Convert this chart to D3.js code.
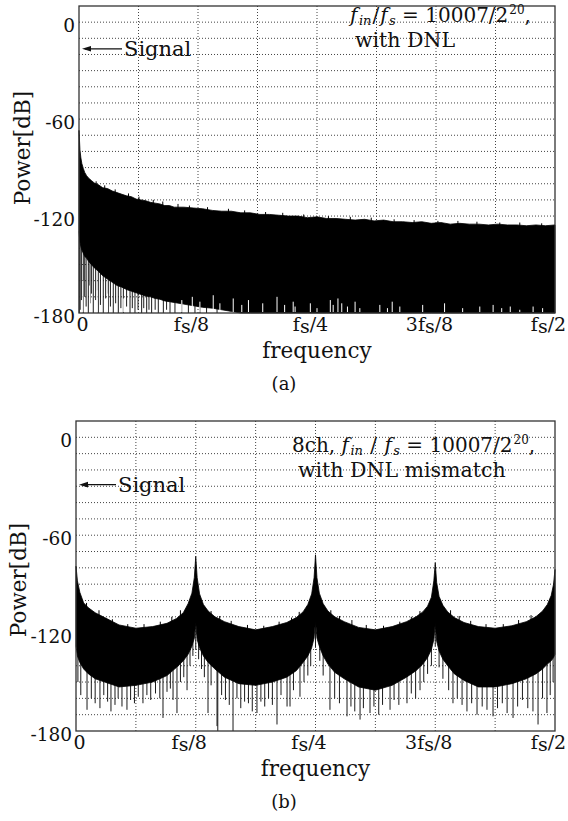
<!DOCTYPE html>
<html>
<head>
<meta charset="utf-8">
<script src="https://cdn.jsdelivr.net/npm/d3@7"></script>
<style>
  body { margin: 0; background: #fff; }
  svg { display: block; }
  text { font-family: "DejaVu Serif", serif; fill: #111; }
</style>
</head>
<body>
<div id="chart"></div>
<script>
// ---- shared axis data ----
const tickFracs = [0, 0.125, 0.25, 0.375, 0.5];
const tickNames = ["0", "fs/8", "fs/4", "3fs/8", "fs/2"];
const dbTicks = [0, -60, -120, -180];
const gridFracs = [0.0625, 0.125, 0.1875, 0.25, 0.3125, 0.375, 0.4375];
const gridDb = [0, -10, -20, -30, -40, -50, -60, -70, -80, -90, -100, -110, -120, -130, -140, -150, -160, -170];

// ---- panel (a): single channel, with DNL ----
const freqA = [0, 0.0005, 0.001, 0.002, 0.003, 0.0045, 0.006, 0.008, 0.01, 0.013,
  0.016, 0.02, 0.025, 0.03, 0.035, 0.04, 0.045, 0.05, 0.055, 0.06,
  0.065, 0.07, 0.075, 0.08, 0.085, 0.09, 0.095, 0.1,
  0.11, 0.12, 0.13, 0.14, 0.15, 0.16, 0.17, 0.18, 0.19, 0.2,
  0.21, 0.22, 0.23, 0.24, 0.25, 0.26, 0.27, 0.28, 0.29, 0.3,
  0.31, 0.32, 0.33, 0.34, 0.35, 0.36, 0.37, 0.38, 0.39, 0.4,
  0.41, 0.42, 0.43, 0.44, 0.45, 0.46, 0.47, 0.48, 0.49, 0.5];
const topA = [-67, -73, -79, -84, -87.5, -90.5, -93, -95, -96.5, -98,
  -99.5, -100.5, -102.5, -103, -104.5, -105.5, -106.5, -107.5, -108, -109.5,
  -110, -110.5, -111.5, -112, -112.5, -113.5, -113.5, -114.5,
  -114.5, -115, -115.5, -116.5, -117, -117, -118, -118, -119, -119,
  -119.5, -120, -120, -121, -120.5, -121.5, -121.5, -122, -122.5, -122,
  -123, -122.5, -123.5, -123.5, -124, -123.5, -124.5, -124, -125, -124.5,
  -125, -125, -125.5, -125, -125.5, -125.5, -126, -125.5, -126, -125.5];
const floorA = [-129, -133, -136, -139, -141, -143, -145, -146, -148, -150,
  -152, -154, -157, -159, -161, -163, -164, -165.5, -166.5, -167.5,
  -168.5, -169.5, -170, -171, -171.5, -172.5, -173, -173.5,
  -174.5, -175.5, -176.5, -177, -178, -179, -180, -180, -180, -180,
  -180, -180, -180, -180, -180, -180, -180, -180, -180, -180,
  -180, -180, -180, -180, -180, -180, -180, -180, -180, -180,
  -180, -180, -180, -180, -180, -180, -180, -180, -180, -180];
// small peaks poking above the top envelope [frequency, dB]
const fuzzA = [[0.018, -98.5], [0.027, -101], [0.038, -103.5], [0.052, -106], [0.063, -108],
  [0.078, -110], [0.088, -111], [0.104, -112.5], [0.116, -113.5], [0.135, -114.5],
  [0.157, -115.5], [0.174, -116.5], [0.196, -117.5], [0.214, -118], [0.236, -119],
  [0.262, -120], [0.285, -120.5], [0.307, -121], [0.331, -122], [0.352, -122.5],
  [0.377, -123], [0.398, -123], [0.418, -123.5], [0.442, -124], [0.463, -124], [0.486, -124.5]];
// deepest dips below the solid band [frequency, dB]
const spikesA = [[0.0003, -180], [0.0012, -178], [0.0025, -172], [0.0045, -180], [0.006, -170],
  [0.0075, -176], [0.0098, -180], [0.0115, -174], [0.013, -168], [0.015, -180],
  [0.0175, -172], [0.0203, -180], [0.0225, -175], [0.0255, -180], [0.028, -171],
  [0.0308, -180], [0.033, -176], [0.036, -180], [0.0385, -174], [0.0413, -180],
  [0.044, -177], [0.0466, -180], [0.05, -176], [0.0536, -180], [0.056, -177],
  [0.0588, -180], [0.062, -178], [0.0658, -180], [0.068, -177], [0.0711, -180],
  [0.0735, -178], [0.0763, -180], [0.08, -178], [0.0833, -180], [0.0886, -180],
  [0.092, -178], [0.0956, -180], [0.1008, -180], [0.1079, -180], [0.1149, -180],
  [0.1218, -180], [0.1271, -180], [0.134, -180], [0.145, -180]];
// white gaps rising from the floor [frequency, dB]
const gapsA = [[0.004, -160], [0.011, -163], [0.019, -166], [0.03, -168], [0.047, -171],
  [0.064, -174], [0.085, -175], [0.108, -172], [0.119, -170], [0.127, -173], [0.141, -169], [0.148, -174],
  [0.162, -171], [0.171, -175], [0.178, -172], [0.193, -174], [0.208, -170],
  [0.216, -175], [0.225, -173], [0.227, -176], [0.243, -174], [0.25, -177],
  [0.264, -172], [0.267, -175], [0.272, -171], [0.276, -174], [0.282, -176],
  [0.29, -173], [0.295, -177], [0.316, -175], [0.324, -177], [0.329, -173],
  [0.337, -176], [0.361, -175], [0.384, -174], [0.403, -177], [0.421, -176],
  [0.435, -175], [0.444, -177], [0.453, -176], [0.463, -178], [0.477, -176], [0.487, -177]];

// ---- panel (b): 8 channels, with DNL mismatch ----
const freqB = [0, 0.0015, 0.004, 0.008, 0.013, 0.02, 0.03, 0.045, 0.0625, 0.08,
  0.095, 0.105, 0.112, 0.117, 0.121, 0.1235, 0.125, 0.1265, 0.129, 0.133,
  0.138, 0.145, 0.155, 0.17, 0.1875, 0.205, 0.22, 0.23, 0.237, 0.242,
  0.246, 0.2485, 0.25, 0.2515, 0.254, 0.258, 0.263, 0.27, 0.28, 0.295,
  0.3125, 0.33, 0.345, 0.355, 0.362, 0.367, 0.371, 0.3735, 0.375, 0.3765,
  0.379, 0.383, 0.388, 0.395, 0.405, 0.42, 0.4375, 0.455, 0.47, 0.48,
  0.487, 0.492, 0.496, 0.4985, 0.5];
const topB = [-79, -88, -95, -101.5, -104.5, -107.5, -110.5, -115, -117, -116,
  -114, -111, -107.5, -102, -95.5, -86, -73, -86, -96, -102.5,
  -106.5, -110, -113, -116, -118, -116, -113.5, -110.5, -107, -102.5,
  -96, -86, -72, -86, -95.5, -102, -106.5, -110, -113, -116.5,
  -118, -116, -113, -110, -107, -103.5, -98, -88, -77, -89,
  -97.5, -103, -107, -110.5, -113.5, -116, -117, -115.5, -113, -110,
  -106.5, -102.5, -97, -90, -81];
const floorB = [-128, -134, -138, -142, -145, -148, -150, -153, -152, -150,
  -146, -141, -137, -133, -128, -123, -113, -124, -129, -134,
  -138, -142, -147, -151, -152, -150, -147, -143, -138, -134,
  -129, -123, -112, -123, -128, -134, -139, -144, -148, -153,
  -155, -152, -147, -143, -139, -135, -130, -124, -114, -125,
  -131, -136, -140, -145, -149, -153, -153, -151, -148, -145,
  -142, -139, -137, -135, -133];
const fuzzB = [[0.011, -101.5], [0.024, -106], [0.038, -111.5], [0.054, -114.5], [0.071, -114.5],
  [0.088, -113], [0.1, -110], [0.109, -106], [0.141, -106.5], [0.15, -109.5],
  [0.162, -112.5], [0.179, -115], [0.196, -115.5], [0.212, -113], [0.225, -110.5],
  [0.233, -107], [0.266, -106], [0.275, -109.5], [0.288, -112], [0.303, -115],
  [0.321, -115.5], [0.338, -113], [0.35, -110], [0.359, -106.5], [0.391, -106],
  [0.4, -109.5], [0.412, -112.5], [0.428, -114.5], [0.446, -114.5], [0.462, -112], [0.475, -109]];
const spikesB = [[0.002, -150], [0.005, -158], [0.0115, -167], [0.016, -160], [0.02, -163],
  [0.025, -166], [0.029, -158], [0.033, -162], [0.0365, -168], [0.0407, -164],
  [0.044, -160], [0.048, -165], [0.0532, -167], [0.057, -161], [0.061, -163],
  [0.065, -159], [0.0699, -163], [0.074, -158], [0.078, -161], [0.083, -157],
  [0.0875, -160], [0.0908, -172], [0.095, -156], [0.0985, -154], [0.1013, -161],
  [0.1054, -169], [0.109, -150], [0.1125, -147], [0.1159, -155], [0.119, -140],
  [0.122, -134], [0.125, -130],
  [0.128, -136], [0.131, -142], [0.134, -147], [0.1378, -169], [0.141, -152],
  [0.1472, -177], [0.148, -181], [0.152, -158], [0.156, -161], [0.16, -164],
  [0.1639, -181], [0.168, -160], [0.172, -166], [0.176, -162], [0.18, -163],
  [0.184, -168], [0.1889, -169], [0.193, -162], [0.197, -165], [0.201, -160],
  [0.205, -164], [0.2098, -176], [0.214, -158], [0.2203, -165], [0.2234, -165],
  [0.227, -155], [0.2338, -159], [0.238, -150], [0.242, -146], [0.245, -140], [0.25, -129],
  [0.2545, -137], [0.258, -146], [0.2651, -167], [0.27, -160], [0.275, -163],
  [0.2829, -171], [0.287, -165], [0.291, -168], [0.2965, -173], [0.3, -166],
  [0.3069, -169], [0.311, -165], [0.316, -170], [0.32, -164], [0.3278, -167],
  [0.332, -161], [0.337, -164], [0.3455, -163], [0.35, -157], [0.3545, -160],
  [0.3591, -155], [0.363, -150], [0.367, -145], [0.371, -140], [0.375, -128],
  [0.379, -141], [0.383, -148], [0.389, -155], [0.3935, -163], [0.398, -160],
  [0.403, -164], [0.4081, -168], [0.413, -163], [0.4186, -170], [0.424, -165],
  [0.429, -167], [0.4353, -171], [0.44, -166], [0.445, -163], [0.45, -169],
  [0.4562, -172], [0.461, -165], [0.466, -161], [0.4716, -166], [0.477, -168],
  [0.4823, -176], [0.487, -160], [0.4916, -169], [0.495, -158], [0.498, -150]];
const gapsB = [];

// ---- page ----
const width = 568, height = 821;
const svg = d3.select("#chart").append("svg")
  .attr("width", width)
  .attr("height", height);

function drawPanel(p) {
  const g = svg.append("g");

  const x = d3.scaleLinear().domain([0, 0.5]).range([p.left, p.right]);
  const y = d3.scaleLinear().domain([-180, 10]).range([p.bottom, p.top]).clamp(true);

  // dotted grid
  g.append("g").selectAll("line").data(gridFracs).join("line")
    .attr("x1", d => x(d)).attr("x2", d => x(d))
    .attr("y1", p.top).attr("y2", p.bottom)
    .attr("stroke", "#444").attr("stroke-width", 1)
    .attr("stroke-dasharray", "1,2");
  g.append("g").selectAll("line").data(gridDb).join("line")
    .attr("x1", p.left).attr("x2", p.right)
    .attr("y1", d => y(d)).attr("y2", d => y(d))
    .attr("stroke", "#444").attr("stroke-width", 1)
    .attr("stroke-dasharray", "1,2");

  // spectrum: solid band between floor and top envelope
  const rows = d3.zip(p.freq, p.top_, p.floor);
  const floorAt = d3.scaleLinear().domain(p.freq).range(p.floor);
  const topAt = d3.scaleLinear().domain(p.freq).range(p.top_);

  g.append("g").selectAll("line").data(p.spikes).join("line")
    .attr("x1", d => x(d[0])).attr("x2", d => x(d[0]))
    .attr("y1", d => y(floorAt(d[0]) + 2)).attr("y2", d => y(d[1]))
    .attr("stroke", "#1a1a1a").attr("stroke-width", 1);

  const area = d3.area()
    .x(d => x(d[0]))
    .y0(d => y(d[2]))
    .y1(d => y(d[1]));
  g.append("path")
    .datum(rows)
    .attr("d", area)
    .attr("fill", "#000")
    .attr("stroke", "#000")
    .attr("stroke-width", 0.8);

  g.append("g").selectAll("line").data(p.fuzz).join("line")
    .attr("x1", d => x(d[0])).attr("x2", d => x(d[0]))
    .attr("y1", d => y(topAt(d[0]) - 2)).attr("y2", d => y(d[1]))
    .attr("stroke", "#000").attr("stroke-width", 1);

  g.append("g").selectAll("line").data(p.gaps).join("line")
    .attr("x1", d => x(d[0])).attr("x2", d => x(d[0]))
    .attr("y1", y(-180) - 1).attr("y2", d => y(d[1]))
    .attr("stroke", "#fff").attr("stroke-width", 1);

  // frame
  g.append("rect")
    .attr("x", p.left).attr("y", p.top)
    .attr("width", p.right - p.left).attr("height", p.bottom - p.top)
    .attr("fill", "none").attr("stroke", "#333").attr("stroke-width", 1.3);

  // axes
  const yAxis = d3.axisLeft(y).tickValues(dbTicks)
    .tickFormat(d => String(d)).tickSize(0).tickPadding(4);
  const yg = g.append("g").attr("transform", `translate(${p.left},0)`).call(yAxis);
  yg.select(".domain").remove();
  yg.selectAll("text")
    .attr("font-family", "DejaVu Serif").attr("font-size", 18.5)
    .attr("fill", "#111").attr("dy", "0.52em");

  const xAxis = d3.axisBottom(x).tickValues(tickFracs)
    .tickFormat((d, i) => tickNames[i]).tickSize(0).tickPadding(5);
  const xg = g.append("g").attr("transform", `translate(0,${p.bottom})`).call(xAxis);
  xg.select(".domain").remove();
  xg.selectAll("text").each(function (d, i) {
    const t = d3.select(this)
      .attr("font-family", "DejaVu Serif").attr("font-size", 19)
      .attr("fill", "#111").text(null);
    const name = tickNames[i];
    if (name === "0") {
      t.attr("dx", 3).text("0");
      return;
    }
    const k = name.indexOf("s");
    t.attr("dx", -7);
    t.append("tspan").text(name.slice(0, k));
    t.append("tspan").attr("dy", 1.5).text("s");
    t.append("tspan").attr("dy", -1.5).text(name.slice(k + 1));
  });

  // axis titles
  g.append("text")
    .attr("transform", `translate(${p.yTitleX},${p.yTitleY}) rotate(-90)`)
    .attr("text-anchor", "middle").attr("font-size", 21.5)
    .text("Power[dB]");
  g.append("text")
    .attr("x", (p.left + p.right) / 2).attr("y", p.bottom + 45)
    .attr("text-anchor", "middle").attr("font-size", 21.5)
    .text("frequency");
  g.append("text")
    .attr("x", 284).attr("y", p.bottom + 77)
    .attr("text-anchor", "middle").attr("font-size", 18)
    .text(p.caption);

  // signal marker
  const sy = y(p.signalDb);
  g.append("line")
    .attr("x1", p.left + 6).attr("x2", p.left + p.signalLen)
    .attr("y1", sy).attr("y2", sy)
    .attr("stroke", "#111").attr("stroke-width", 1.2);
  g.append("path")
    .attr("d", `M${p.left + 3},${sy} l9,-2.8 l0,5.6 z`)
    .attr("fill", "#111");
  g.append("text")
    .attr("x", p.left + p.signalLen + 2).attr("y", sy + 7)
    .attr("font-size", 21).text("Signal");

  // condition note
  const note = g.append("text").attr("x", p.noteX).attr("y", p.noteY).attr("font-size", 20);
  if (p.prefix) note.append("tspan").text(p.prefix);
  note.append("tspan").attr("font-style", "italic").text("f");
  note.append("tspan").attr("font-style", "italic").attr("font-size", 13)
    .attr("dx", 1.5).attr("dy", 3).text("in");
  note.append("tspan").attr("dx", 1).attr("dy", -3).text(p.slash);
  note.append("tspan").attr("font-style", "italic").attr("dx", 1).text("f");
  note.append("tspan").attr("font-style", "italic").attr("font-size", 13)
    .attr("dx", 1.5).attr("dy", 3).text("s");
  note.append("tspan").attr("dy", -3).text(" = 10007/2");
  note.append("tspan").attr("font-size", 12).attr("dx", 1).attr("dy", -8).text("20");
  note.append("tspan").attr("dy", 8).text(",");
  g.append("text").attr("x", p.noteX2).attr("y", p.noteY + 25)
    .attr("font-size", 20.5).text(p.note2);
}

drawPanel({
  left: 79, right: 555, top: 6, bottom: 313,
  freq: freqA, top_: topA, floor: floorA, fuzz: fuzzA, spikes: spikesA, gaps: gapsA,
  yTitleX: 30, yTitleY: 148, caption: "(a)",
  signalDb: -16.5, signalLen: 43,
  noteX: 350, noteY: 22, noteX2: 355, prefix: null, slash: "/",
  note2: "with DNL"
});

drawPanel({
  left: 76, right: 555, top: 421, bottom: 731,
  freq: freqB, top_: topB, floor: floorB, fuzz: fuzzB, spikes: spikesB, gaps: gapsB,
  yTitleX: 26, yTitleY: 580, caption: "(b)",
  signalDb: -29, signalLen: 40,
  noteX: 292, noteY: 452, noteX2: 298, prefix: "8ch,  ", slash: " / ",
  note2: "with DNL mismatch"
});
</script>
</body>
</html>
